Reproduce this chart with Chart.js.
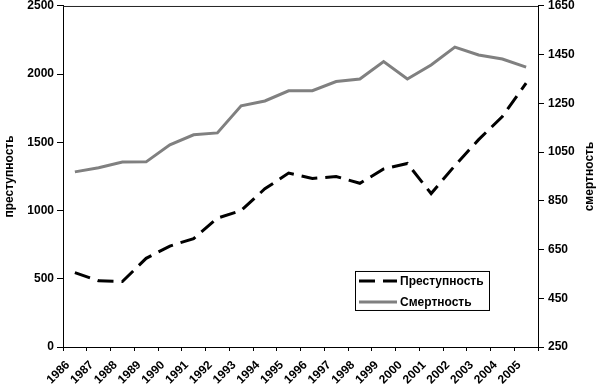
<!DOCTYPE html>
<html>
<head>
<meta charset="utf-8">
<script src="https://cdn.jsdelivr.net/npm/chart.js@4"></script>
<style>
  html, body { margin: 0; padding: 0; background: #fff; }
  #wrap { width: 600px; height: 386px; }
</style>
</head>
<body>
<div id="wrap"><canvas id="chart"></canvas></div>
<script>
const years = ['1986', '1987', '1988', '1989', '1990', '1991', '1992', '1993', '1994', '1995',
               '1996', '1997', '1998', '1999', '2000', '2001', '2002', '2003', '2004', '2005'];
const crime = [545, 485, 480, 650, 740, 795, 945, 1000, 1160, 1275,
               1235, 1250, 1200, 1305, 1345, 1125, 1330, 1520, 1690, 1935];
const mortality = [969, 986, 1009, 1010, 1080, 1121, 1129, 1240, 1260, 1302,
                   1302, 1340, 1350, 1422, 1350, 1408, 1481, 1449, 1432, 1399];
const crimeLabel = 'Преступность';
const mortalityLabel = 'Смертность';
const leftTitle = 'преступность';
const rightTitle = 'смертность';

const font = { family: 'Arial, "Liberation Sans", sans-serif', size: 12, weight: 'bold' };
// tight line height so the top tick label does not push the plot down
const yFont = { family: 'Arial, "Liberation Sans", sans-serif', size: 12, weight: 'bold', lineHeight: 0.33 };
const fontStr = 'bold 12px Arial, "Liberation Sans", sans-serif';
const plain = v => String(v);

// top edge of the plot frame
const frame = {
    id: 'frame',
    beforeDatasetsDraw(chart) {
        const { ctx, chartArea: a } = chart;
        ctx.save();
        ctx.strokeStyle = '#222';
        ctx.lineWidth = 1;
        ctx.beginPath();
        ctx.moveTo(a.left, a.top + 0.5);
        ctx.lineTo(a.right, a.top + 0.5);
        ctx.stroke();
        ctx.restore();
    }
};

// both axis titles read bottom to top
const sideTitles = {
    id: 'sideTitles',
    afterDraw(chart) {
        const { ctx, chartArea: a } = chart;
        const mid = (a.top + a.bottom) / 2;
        ctx.save();
        ctx.font = fontStr;
        ctx.fillStyle = '#000';
        ctx.textAlign = 'center';
        ctx.textBaseline = 'middle';
        [[10, leftTitle], [chart.width - 10, rightTitle]].forEach(([x, t]) => {
            ctx.save();
            ctx.translate(x, mid);
            ctx.rotate(-Math.PI / 2);
            ctx.fillText(t, 0, 0);
            ctx.restore();
        });
        ctx.restore();
    }
};

// boxed legend inside the plot
const boxLegend = {
    id: 'boxLegend',
    afterDraw(chart) {
        const { ctx, chartArea: a } = chart;
        const x = a.left + 292, y = a.top + 265, w = 134, h = 39;
        ctx.save();
        ctx.fillStyle = '#fff';
        ctx.fillRect(x, y, w, h);
        ctx.strokeStyle = '#000';
        ctx.lineWidth = 1;
        ctx.strokeRect(x + 0.5, y + 0.5, w, h);
        chart.data.datasets.forEach((ds, i) => {
            const ly = y + 10 + i * 21;
            ctx.strokeStyle = ds.borderColor;
            ctx.lineWidth = ds.borderWidth;
            ctx.setLineDash(ds.borderDash || []);
            ctx.beginPath();
            ctx.moveTo(x + 4, ly);
            ctx.lineTo(x + 42, ly);
            ctx.stroke();
            ctx.setLineDash([]);
            ctx.font = fontStr;
            ctx.fillStyle = '#000';
            ctx.textBaseline = 'middle';
            ctx.fillText(ds.label, x + 45, ly + 1);
        });
        ctx.restore();
    }
};

new Chart(document.getElementById('chart'), {
    type: 'line',
    data: {
        labels: years,
        datasets: [{
            label: crimeLabel,
            data: crime,
            yAxisID: 'y',
            borderColor: '#000',
            borderWidth: 3,
            borderDash: [16, 8],
            pointRadius: 0,
            fill: false,
            tension: 0
        }, {
            label: mortalityLabel,
            data: mortality,
            yAxisID: 'y1',
            borderColor: '#808080',
            borderWidth: 3,
            pointRadius: 0,
            fill: false,
            tension: 0
        }]
    },
    options: {
        responsive: true,
        maintainAspectRatio: false,
        animation: false,
        layout: { padding: 0 },
        plugins: {
            legend: { display: false },
            tooltip: { enabled: false }
        },
        scales: {
            x: {
                offset: true,
                grid: { offset: true, drawOnChartArea: false, color: '#000', tickLength: 4 },
                border: { color: '#000' },
                ticks: { font: font, color: '#000', minRotation: 45, maxRotation: 45, autoSkip: false,
                         padding: 7, labelOffset: -7 },
                afterFit(s) { s.height = 39; }
            },
            y: {
                position: 'left',
                min: 0,
                max: 2500,
                grid: { drawOnChartArea: false, color: '#000', tickLength: 6 },
                border: { color: '#000' },
                ticks: { stepSize: 500, font: yFont, color: '#000', padding: 3, callback: plain },
                afterFit(s) { s.width = 63; }
            },
            y1: {
                position: 'right',
                min: 250,
                max: 1650,
                grid: { drawOnChartArea: false, color: '#000', tickLength: 6 },
                border: { color: '#000' },
                ticks: { stepSize: 200, font: yFont, color: '#000', padding: 4, callback: plain },
                afterFit(s) { s.width = 62; }
            }
        }
    },
    plugins: [frame, sideTitles, boxLegend]
});
</script>
</body>
</html>
